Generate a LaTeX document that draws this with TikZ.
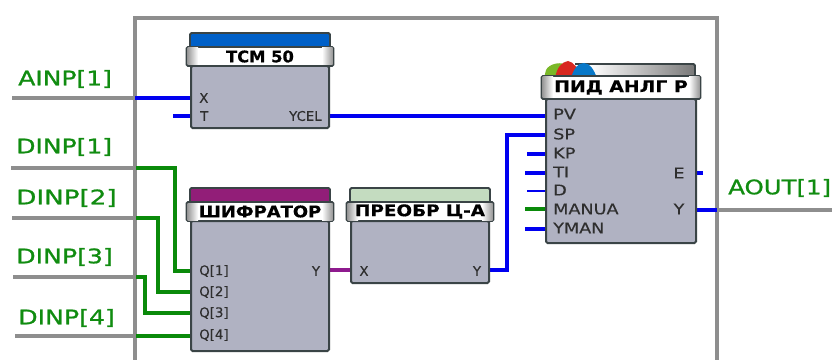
\documentclass[tikz,border=0pt]{standalone}
\usepackage{graphicx}
\usepackage{fontspec}
\setmainfont{DejaVu Sans}
\newfontfamily\biglabfont[FakeBold=0.9]{DejaVu Sans}
\newfontfamily\portfont[FakeBold=0.25]{DejaVu Sans}
\newfontfamily\ttlfont[FakeBold=0.5]{DejaVu Sans Bold}
\usetikzlibrary{calc}
\def\px{0.75pt}
\definecolor{framegrey}{HTML}{8E8E8E}
\definecolor{wblue}{HTML}{0000F0}
\definecolor{wgreen}{HTML}{0A8A0A}
\definecolor{wpurple}{HTML}{8E1A8E}
\definecolor{bodyfill}{HTML}{B0B2C2}
\definecolor{edge}{HTML}{3A4446}
\definecolor{labgreen}{HTML}{108C10}
\definecolor{bartcm}{HTML}{0060C8}
\definecolor{barshf}{HTML}{921E78}
\definecolor{barpre}{HTML}{C4DCC0}
\definecolor{tabg}{HTML}{7AB828}
\definecolor{tabr}{HTML}{D82820}
\definecolor{tabb}{HTML}{0878C8}
\tikzset{
  x=0.75pt,y=-0.75pt,
  framel/.style={draw=framegrey,line width=3.2*\px},
  greyl/.style={draw=framegrey,line width=3.4*\px},
  bluew/.style={draw=wblue,line width=3.4*\px},
  greenw/.style={draw=wgreen,line width=3.2*\px},
  purplew/.style={draw=wpurple,line width=3.4*\px},
  bodybox/.style={draw=edge,fill=bodyfill,line width=2*\px,rounded corners=1.5*\px,inner sep=0pt,outer sep=0pt},
  titlebox/.style={draw=edge,fill=white,line width=1.8*\px,rounded corners=1.5*\px,inner sep=0pt,outer sep=0pt},
  barbox/.style={draw=edge,line width=1.8*\px,rounded corners=1.5*\px,inner sep=0pt,outer sep=0pt},
  biglab/.style={anchor=west,inner sep=0pt,text=labgreen,font=\biglabfont\fontsize{15}{15}\selectfont},
  port/.style={inner sep=0pt,text=black!82,font=\portfont\fontsize{10}{10}\selectfont},
  pidport/.style={inner sep=0pt,anchor=west,text=black!82,font=\portfont\fontsize{11}{11}\selectfont},
  ttl/.style={inner sep=0pt,font=\ttlfont\fontsize{12}{12}\selectfont},
}
% name, x0, x1, bar top, title top, title bottom, body bottom, bar colour, title
\newcommand{\fblock}[9]{%
  \node[barbox,fill=#8,minimum width={(#3-#2+2)*\px},minimum height={(#5-#4+4)*\px}] (#1bar) at ({(#2+#3)/2},{(#4+#5+4)/2}) {};
  \node[bodybox,minimum width={(#3-#2)*\px},minimum height={(#7-#6)*\px}] (#1) at ({(#2+#3)/2},{(#6+#7)/2}) {};
  \node[titlebox,minimum width={(#3-#2+9)*\px},minimum height={(#6-#5)*\px}] (#1title) at ({(#2+#3)/2},{(#5+#6)/2}) {};
  \shade[left color=gray!80,right color=white] ({#2-3.5},{#5+1}) rectangle ({#2+7},{#6-1});
  \shade[right color=gray!80,left color=white] ({#3-7},{#5+1}) rectangle ({#3+3.5},{#6-1});
  \node[ttl] (#1name) at ({(#2+#3)/2},{(#5+#6)/2}) {#9};
}
\begin{document}
\begin{tikzpicture}
\useasboundingbox (0,0) rectangle (832,360);
\fill[white] (0,0) rectangle (832,360);

% outer frame
\coordinate (ftl) at (135,18);
\coordinate (ftr) at (717,18);
\coordinate (fbl) at (135,362);
\coordinate (fbr) at (717,362);
\draw[framel] (fbl) -- (ftl) -- (ftr) -- (fbr);

% external tails
\coordinate (ain) at (12,98);   \coordinate (ainj) at (135,98);
\coordinate (d1) at (11,168);   \coordinate (d1j) at (136,168);
\coordinate (d2) at (12,218);   \coordinate (d2j) at (136,218);
\coordinate (d3) at (13,277);   \coordinate (d3j) at (136,277);
\coordinate (d4) at (15,336);   \coordinate (d4j) at (136,336);
\coordinate (aoj) at (717,210); \coordinate (aoe) at (832,210);
\draw[greyl] (ain) -- (ainj);
\draw[greyl] (d1) -- (d1j);
\draw[greyl] (d2) -- (d2j);
\draw[greyl] (d3) -- (d3j);
\draw[greyl] (d4) -- (d4j);
\draw[greyl] (aoj) -- (aoe);

% port coordinates
\coordinate (tcmX) at (191,98);
\coordinate (tcmT) at (191,116);
\coordinate (tcmY) at (329,116);
\coordinate (tcmTs) at (173,116);
\coordinate (q1) at (191,271);
\coordinate (q2) at (191,292);
\coordinate (q3) at (191,313);
\coordinate (q4) at (191,336);
\coordinate (shY) at (329,270);
\coordinate (prX) at (351,270);
\coordinate (prY) at (489,270);
\coordinate (pPV) at (546,116);
\coordinate (pSP) at (546,135);
\coordinate (pKP) at (546,154);
\coordinate (pTI) at (546,173);
\coordinate (pD) at (546,191);
\coordinate (pMA) at (546,209);
\coordinate (pYM) at (546,229);
\coordinate (pE) at (696,173);
\coordinate (pY) at (696,210);
\coordinate (sKP) at (527,154);
\coordinate (sTI) at (525,173);
\coordinate (sD) at (527,191);
\coordinate (sMA) at (525,209);
\coordinate (sYM) at (525,229);
\coordinate (sE) at (703,173);

% wires
\draw[bluew] (ainj) -- (tcmX);
\draw[bluew] (tcmTs) -- (tcmT);
\draw[bluew] (tcmY) -- (pPV);
\draw[greenw] (d1j) -- (175,168) |- (q1);
\draw[greenw] (d2j) -- (158,218) |- (q2);
\draw[greenw] (d3j) -- (145,277) |- (q3);
\draw[greenw] (d4j) -- (q4);
\draw[purplew] (shY) -- (prX);
\draw[bluew] (prY) -- (507,270) |- (pSP);
\draw[bluew] (sKP) -- (pKP);
\draw[bluew] (sTI) -- (pTI);
\draw[bluew,line width=2.2*\px] (sD) -- (pD);
\draw[greenw] (sMA) -- (pMA);
\draw[bluew] (sYM) -- (pYM);
\draw[bluew] (pE) -- (sE);
\draw[bluew] (pY) -- (aoj);

% blocks
\fblock{tcm}{191}{329}{33}{47}{66}{128}{bartcm}{\scalebox{1.02}[1]{ТСМ 50}}
\fblock{shf}{191}{329}{188}{202}{221}{351}{barshf}{\scalebox{1.12}[1]{ШИФРАТОР}}
\fblock{pre}{351}{489}{188}{202}{221}{283}{barpre}{\scalebox{1.15}[1]{ПРЕОБР Ц-А}}

% PID bar with coloured tabs
\shade[left color=white,right color=gray!95!black] (590,65) rectangle (694,78);
\draw[edge,line width=1.8*\px,rounded corners=1.5*\px] (575,64) -- (695,64) -- (695,78);
\fill[tabg] (544,78) -- (546,70) .. controls (549,64) and (559,62) .. (564,64) -- (566,78) -- cycle;
\fill[tabr] (555,78) .. controls (557,67) and (562,62) .. (568,61) .. controls (574,62) and (578,68) .. (581,78) -- cycle;
\fill[tabb] (571,78) .. controls (574,68) and (578,63) .. (584,63) .. controls (590,63) and (594,70) .. (597,78) -- cycle;
\fblock{pid}{546}{696}{80}{76}{99}{243}{white}{\scalebox{1.18}[1]{ПИД АНЛГ Р}}

% port labels
\node[port,anchor=west] (lX) at (199,98) {X};
\node[port,anchor=west] (lT) at (200,116) {T};
\node[port,anchor=east] (lYC) at (322,116) {YCEL};
\node[port,anchor=west] (lq1) at (199,271) {Q[1]};
\node[port,anchor=west] (lq2) at (199,292) {Q[2]};
\node[port,anchor=west] (lq3) at (199,313) {Q[3]};
\node[port,anchor=west] (lq4) at (199,335) {Q[4]};
\node[port] (lsY) at (316,271) {Y};
\node[port] (lpX) at (364,271) {X};
\node[port] (lpY) at (477,271) {Y};
\node[pidport] (lPV) at (553,114) {\scalebox{1.2}[1]{PV}};
\node[pidport] (lSP) at (553,134) {\scalebox{1.2}[1]{SP}};
\node[pidport] (lKP) at (553,153) {\scalebox{1.2}[1]{KP}};
\node[pidport] (lTI) at (553,172) {\scalebox{1.2}[1]{TI}};
\node[pidport] (lD) at (553,190) {\scalebox{1.2}[1]{D}};
\node[pidport] (lMA) at (553,209) {\scalebox{1.2}[1]{MANUA}};
\node[pidport] (lYM) at (553,228) {\scalebox{1.2}[1]{YMAN}};
\node[pidport,anchor=center] (lE) at (679,173) {\scalebox{1.2}[1]{E}};
\node[pidport,anchor=center] (lY) at (679,209) {\scalebox{1.2}[1]{Y}};

% signal names
\node[biglab] (tAI) at (18,79) {\scalebox{1.25}[1]{AINP[1]}};
\node[biglab] (tD1) at (16,147) {\scalebox{1.25}[1]{DINP[1]}};
\node[biglab] (tD2) at (16,198) {\scalebox{1.31}[1]{DINP[2]}};
\node[biglab] (tD3) at (16,257) {\scalebox{1.26}[1]{DINP[3]}};
\node[biglab] (tD4) at (18,318) {\scalebox{1.26}[1]{DINP[4]}};
\node[biglab] (tAO) at (728,188) {\scalebox{1.22}[1]{AOUT[1]}};
\end{tikzpicture}
\end{document}
